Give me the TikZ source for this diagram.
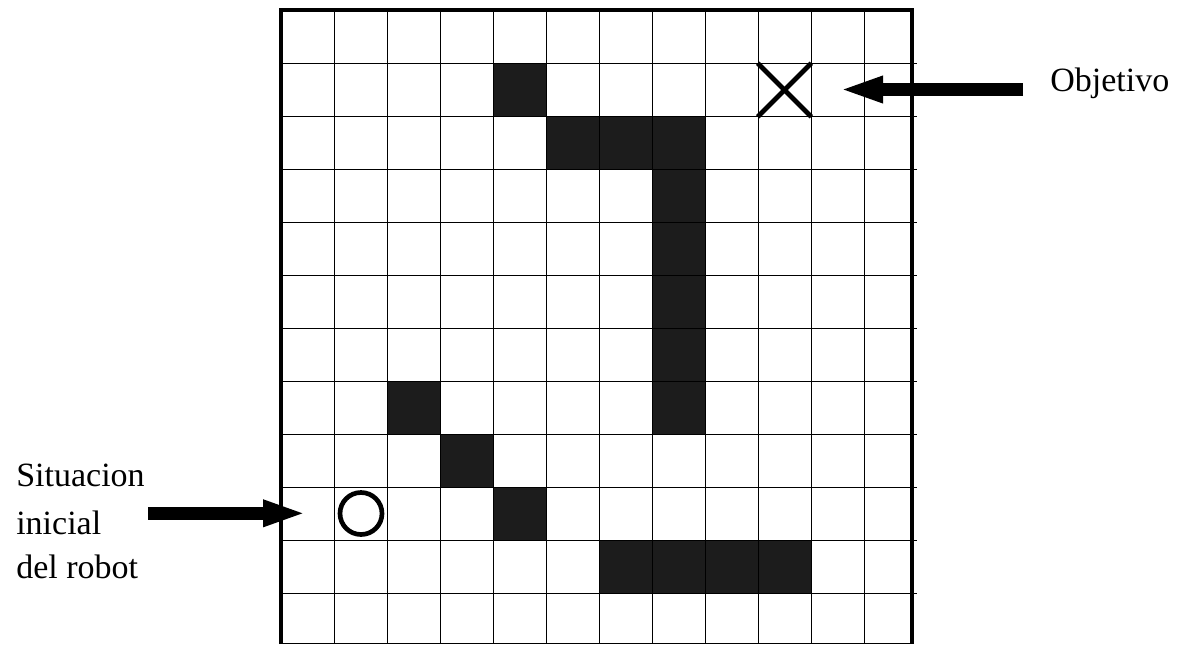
\documentclass[tikz,border=0pt]{standalone}
\usepackage{fontspec}
\setmainfont{Liberation Serif}
\usetikzlibrary{arrows.meta}
\definecolor{cellfill}{HTML}{1C1C1C}
\tikzset{
  gridline/.style={line width=0.75pt, black},
  frame/.style={line width=3.2pt, black},
  blockcell/.style={fill=cellfill},
  label/.style={inner sep=0pt, anchor=base west, font=\fontsize{25.5}{34}\selectfont},
  bigarrow/.style={draw=black, -{Triangle[length=33pt 0 0, width=18pt 0 0]}},
  marker/.style={line width=3.5pt, black},
}
\begin{document}
\begin{tikzpicture}[x=0.75pt, y=-0.75pt]
\useasboundingbox (0,0) rectangle (1177,644);
% black cells
\foreach \c/\r in {4/1, 5/2, 6/2, 7/2, 7/3, 7/4, 7/5, 7/6, 7/7, 2/7, 3/8, 4/9, 6/10, 7/10, 8/10, 9/10}{
  \fill[blockcell] ({281+53*\c},{10+53*\r}) rectangle ({281+53*(\c+1)},{10+53*(\r+1)});
}
% grid lines
\foreach \i in {1,...,11}{
  \draw[gridline] ({281+53*\i},10) -- ({281+53*\i},644);
  \draw[gridline] (281,{10+53*\i}) -- (917,{10+53*\i});
}
\draw[gridline] (281,643.5) -- (912,643.5);
% frame
\draw[frame] (281,644) -- (281,10) -- (912,10) -- (912,644);
% goal X
\node[inner sep=0pt, minimum width=53*0.75pt, minimum height=53*0.75pt] (goal) at (784.5,90) {};
\draw[marker] (goal.north west) -- (goal.south east);
\draw[marker] (goal.south west) -- (goal.north east);
% robot circle
\node[marker, draw, circle, minimum size=42*0.75pt, inner sep=0pt] (robot) at (361,513.5) {};
% labels
\node[label] (obj) at (1050,91.7) {Objetivo};
\node[label] (sit1) at (16,486.7) {Situacion};
\node[label] (sit2) at (16,534) {inicial};
\node[label] (sit3) at (16,578) {del robot};
% arrows
\coordinate (objtail) at (1023,89.5);
\coordinate (objtip) at (839,89.5);
\coordinate (robtail) at (148,513.3);
\coordinate (robtip) at (307,513.3);
\draw[bigarrow, line width=9.3pt] (objtail) -- (objtip);
\draw[bigarrow, line width=9.5pt] (robtail) -- (robtip);
\end{tikzpicture}
\end{document}
